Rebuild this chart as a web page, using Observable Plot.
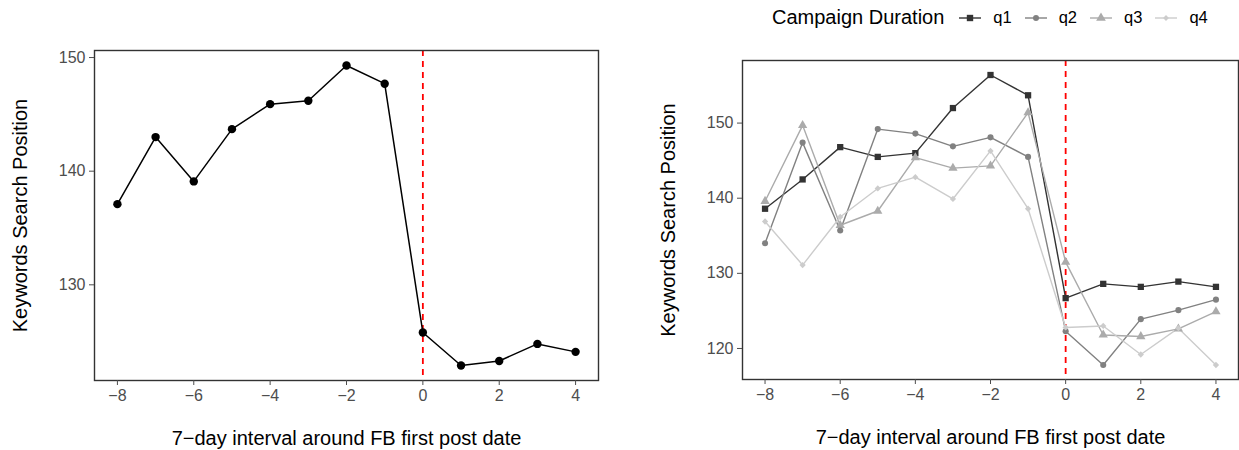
<!DOCTYPE html>
<html>
<head>
<meta charset="utf-8">
<script src="https://cdn.jsdelivr.net/npm/d3@7"></script>
<script src="https://cdn.jsdelivr.net/npm/@observablehq/plot@0.6"></script>
<style>
  body { margin: 0; background: #fff; font-family: "Liberation Sans", Arial, sans-serif; }
  #wrap { position: relative; width: 1239px; height: 450px; display: flex; overflow: hidden; }
  #left { width: 620px; height: 450px; }
  #right { width: 619px; height: 450px; position: relative; }
  #legend { height: 35px; display: flex; align-items: center; padding-left: 152px; box-sizing: border-box; color: #000; }
  #legend .title { font-size: 20px; margin-right: 15px; }
  #legend .item { display: flex; align-items: center; margin-right: 13px; }
  #legend .item svg { margin-right: 12px; }
  #legend .item span { font-size: 16.5px; }
  svg { overflow: visible; }
</style>
</head>
<body>
<div id="wrap">
  <div id="left"></div>
  <div id="right"><div id="legend"></div><div id="rightPlot"></div></div>
</div>
<script>
// ---- data ----
const weeks = [-8, -7, -6, -5, -4, -3, -2, -1, 0, 1, 2, 3, 4];
const overall = [137.1, 143.0, 139.1, 143.7, 145.9, 146.2, 149.3, 147.7, 125.8, 122.9, 123.3, 124.8, 124.1];
const q1 = [138.6, 142.5, 146.8, 145.5, 146.0, 152.0, 156.4, 153.7, 126.7, 128.6, 128.2, 128.9, 128.2];
const q2 = [134.0, 147.4, 135.7, 149.2, 148.6, 146.9, 148.1, 145.5, 122.3, 117.8, 123.9, 125.1, 126.5];
const q3 = [139.6, 149.7, 136.4, 138.3, 145.4, 144.0, 144.3, 151.4, 131.5, 121.8, 121.6, 122.6, 124.9];
const q4 = [136.9, 131.1, 137.5, 141.3, 142.8, 139.9, 146.3, 138.6, 122.8, 123.0, 119.2, 122.7, 117.8];
const seriesNames = ["q1", "q2", "q3", "q4"];
const xTicks = [-8, -6, -4, -2, 0, 2, 4];
const yTicksLeft = [130, 140, 150];
const yTicksRight = [120, 130, 140, 150];
const eventWeek = [0];
const xTitle = "7\u2212day interval around FB first post date";
const yTitle = "Keywords Search Position";
const legendTitle = "Campaign Duration";

// ---- styles ----
const greys = ["#333333", "#818181", "#ABABAB", "#CCCCCC"];
const symbols = ["square", "circle", "triangle", "diamond2"];
const symbolR = {q1: 5, q2: 3.7, q3: 4.7, q4: 3.2};
const font = "Liberation Sans, Arial, sans-serif";
const fmt = d => d < 0 ? "\u2212" + Math.abs(d) : String(d);
const expand = ([a, b]) => { const p = (b - a) * 0.05; return [a - p, b + p]; };

// ---- left panel ----
const leftData = weeks.map((w, i) => ({week: w, value: overall[i]}));
const left = Plot.plot({
  width: 620, height: 450,
  marginLeft: 94, marginRight: 22, marginTop: 50, marginBottom: 70,
  style: {fontFamily: font, background: "white"},
  x: {domain: expand(d3.extent(weeks))},
  y: {domain: expand(d3.extent(overall))},
  marks: [
    Plot.ruleX(eventWeek, {stroke: "#ff0000", strokeWidth: 1.8, strokeDasharray: "6,5"}),
    Plot.line(leftData, {x: "week", y: "value", stroke: "black", strokeWidth: 1.5}),
    Plot.dot(leftData, {x: "week", y: "value", r: 4.2, fill: "black", stroke: null}),
    Plot.frame({stroke: "#333", strokeWidth: 1.4}),
    Plot.axisX({ticks: xTicks, tickFormat: fmt, tickSize: 5, tickPadding: 4, fontSize: 16, color: "#4d4d4d", label: null}),
    Plot.axisY({ticks: yTicksLeft, tickSize: 5, tickPadding: 4, fontSize: 16, color: "#4d4d4d", label: null}),
    Plot.text([xTitle], {frameAnchor: "bottom", dy: 64, fontSize: 20, fill: "black"}),
    Plot.text([yTitle], {frameAnchor: "left", dx: -74, rotate: -90, textAnchor: "middle", fontSize: 20, fill: "black"})
  ]
});
document.getElementById("left").append(left);

// ---- right panel ----
const allQ = [q1, q2, q3, q4];
const rightData = seriesNames.flatMap((s, k) => weeks.map((w, i) => ({series: s, week: w, value: allQ[k][i]})));
const right = Plot.plot({
  width: 619, height: 415,
  marginLeft: 122, marginRight: 1, marginTop: 25, marginBottom: 71,
  style: {fontFamily: font, background: "white"},
  x: {domain: expand(d3.extent(weeks))},
  y: {domain: expand(d3.extent(allQ.flat()))},
  color: {domain: seriesNames, range: greys},
  symbol: {domain: seriesNames, range: symbols},
  marks: [
    Plot.ruleX(eventWeek, {stroke: "#ff0000", strokeWidth: 1.8, strokeDasharray: "6,5"}),
    Plot.line(rightData, {x: "week", y: "value", z: "series", stroke: "series", strokeWidth: 1.4}),
    Plot.dot(rightData, {x: "week", y: "value", symbol: "series", fill: "series", stroke: null, r: d => symbolR[d.series]}),
    Plot.frame({stroke: "#333", strokeWidth: 1.4}),
    Plot.axisX({ticks: xTicks, tickFormat: fmt, tickSize: 5, tickPadding: 4, fontSize: 16, color: "#4d4d4d", label: null}),
    Plot.axisY({ticks: yTicksRight, tickSize: 5, tickPadding: 4, fontSize: 16, color: "#4d4d4d", label: null}),
    Plot.text([xTitle], {frameAnchor: "bottom", dy: 64, fontSize: 20, fill: "black"}),
    Plot.text([yTitle], {frameAnchor: "left", dx: -74, rotate: -90, textAnchor: "middle", fontSize: 20, fill: "black"})
  ]
});
document.getElementById("rightPlot").append(right);

// ---- legend ----
const legend = d3.select("#legend");
legend.append("span").attr("class", "title").text(legendTitle);
const d3sym = {square: d3.symbolSquare, circle: d3.symbolCircle, triangle: d3.symbolTriangle, diamond2: d3.symbolDiamond2};
const legendR = {q1: 3.6, q2: 3, q3: 3.6, q4: 2.6};
seriesNames.forEach((s, k) => {
  const item = legend.append("div").attr("class", "item");
  const svg = item.append("svg").attr("width", 22).attr("height", 14);
  svg.append("line").attr("x1", 0).attr("x2", 22).attr("y1", 7).attr("y2", 7).attr("stroke", greys[k]).attr("stroke-width", 1.4);
  const r = legendR[s];
  svg.append("path").attr("transform", "translate(11,7)")
    .attr("d", d3.symbol(d3sym[symbols[k]], Math.PI * r * r)()).attr("fill", greys[k]);
  item.append("span").text(s);
});
</script>
</body>
</html>
